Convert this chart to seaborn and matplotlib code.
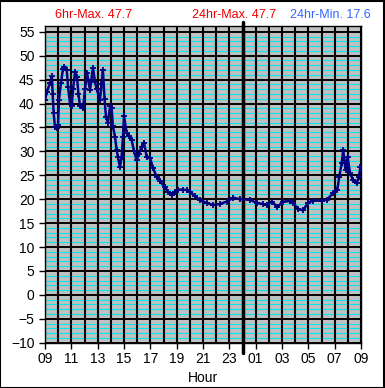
import matplotlib.pyplot as plt
import matplotlib.patches as patches
import seaborn as sns

# hours since 09:00, temperature readings
hours = [0.0, 0.15, 0.38, 0.53, 0.58, 0.66, 0.76, 0.91, 0.99, 1.06, 1.21, 1.37, 1.48,
         1.65, 1.75, 1.9, 2.03, 2.13, 2.28, 2.43, 2.54, 2.66, 2.89, 3.04, 3.19, 3.42,
         3.64, 3.8, 3.93, 4.18, 4.29, 4.4, 4.52, 4.63, 4.78, 4.94, 5.06, 5.16, 5.32,
         5.44, 5.54, 5.69, 5.82, 5.92, 6.0, 6.2, 6.38, 6.58, 6.76, 6.96, 7.14, 7.34,
         7.52, 7.72, 7.97, 8.2, 8.48, 8.73, 9.11, 9.34, 9.62, 9.87, 10.12, 10.48,
         10.76, 11.0, 11.39, 11.77, 12.28, 12.76, 13.29, 13.8, 14.3, 14.81, 15.57,
         16.07, 16.55, 16.83, 17.21, 17.64, 18.09, 18.6, 18.85, 19.23, 19.61, 19.99,
         20.37, 21.01, 21.39, 21.89, 22.2, 22.35, 22.53, 22.65, 22.83, 22.98, 23.16,
         23.41, 23.67, 23.84, 23.96]
temps = [40.8, 42.5, 44.3, 45.7, 42.0, 38.0, 35.0, 34.8, 35.5, 40.8, 44.3, 47.3, 47.7,
         47.0, 43.5, 40.0, 39.5, 43.0, 46.6, 45.5, 42.0, 39.5, 39.0, 43.0, 46.4, 42.8,
         47.5, 44.5, 43.0, 40.8, 44.0, 47.0, 41.0, 37.2, 36.0, 39.4, 39.0, 35.2, 33.0,
         30.3, 28.8, 26.7, 28.9, 33.0, 37.3, 33.9, 33.3, 32.4, 30.0, 28.2, 29.5, 31.0,
         31.8, 28.9, 28.7, 26.5, 24.7, 23.7, 22.6, 21.5, 20.9, 21.5, 22.0, 22.0,
         21.9, 21.6, 20.6, 19.8, 19.2, 18.8, 19.0, 19.5, 20.3, 20.0, 19.9,
         19.2, 19.0, 18.8, 19.5, 18.4, 19.5, 19.6, 19.2, 17.9, 17.7, 19.3,
         19.7, 19.7, 19.9, 21.2, 22.0, 24.7, 27.5, 30.2, 26.1, 28.9, 25.4,
         24.0, 23.3, 24.7, 26.7]
hour_labels = ["09", "11", "13", "15", "17", "19", "21", "23", "01", "03", "05", "07", "09"]

sns.set_theme(style="white")
plt.rcParams['font.family'] = ['Liberation Sans', 'DejaVu Sans']

fig = plt.figure(figsize=(3.85, 3.88), dpi=100)
ax = fig.add_axes([45 / 385, 1 - 342.7 / 388, 316 / 385, (342.7 - 26) / 388])
ax.set_facecolor("#c0c0c0")

ax.set_xlim(0, 24)
ax.set_ylim(-10, 56.2)
ax.set_yticks(range(-10, 56, 5))
ax.set_yticks([v for v in range(-10, 56) if v % 5], minor=True)
ax.set_xticks(range(0, 25, 2))
ax.set_xticklabels(hour_labels)
ax.set_xticks(range(1, 24, 2), minor=True)

ax.grid(which="minor", axis="y", color="#00e8f0", lw=0.8)
ax.grid(which="major", axis="y", color="black", lw=1.4)
ax.grid(which="both", axis="x", color="black", lw=1.5)
ax.set_axisbelow(True)
ax.xaxis.set_zorder(0.6)  # hour lines over the cyan ones

ax.tick_params(axis="both", which="major", direction="out", length=4, width=1,
               color="black", labelsize=10, labelcolor="black", left=True, bottom=True)
ax.tick_params(axis="both", which="minor", length=0)
ax.tick_params(axis="x", pad=3)
for s in ax.spines.values():
    s.set_color("black")
    s.set_linewidth(1)

# midnight marker
ax.axvline(15, ymin=-0.033, ymax=1.013, color="black", lw=2.5, clip_on=False, zorder=3)

sns.lineplot(x=hours, y=temps, ax=ax, color="#000080", lw=1.8, marker="+",
             markersize=5, markeredgewidth=1.3, markeredgecolor="#000080", zorder=4)

ax.set_xlabel("Hour", fontsize=10, color="black", labelpad=3)
ax.set_ylabel("")

fig.text(55 / 385, 1 - 15 / 388, "6hr-Max. 47.7", color="#ee0000", fontsize=9, va="center")
fig.text(192 / 385, 1 - 15 / 388, "24hr-Max. 47.7", color="#ee0000", fontsize=9, va="center")
fig.text(290 / 385, 1 - 15 / 388, "24hr-Min. 17.6", color="#3366ff", fontsize=9, va="center")

fig.patches.append(patches.Rectangle((0.001, 0.001), 0.997, 0.997, transform=fig.transFigure,
                                     fill=False, edgecolor="black", lw=1.5))

fig.savefig("out.png", dpi=100)
